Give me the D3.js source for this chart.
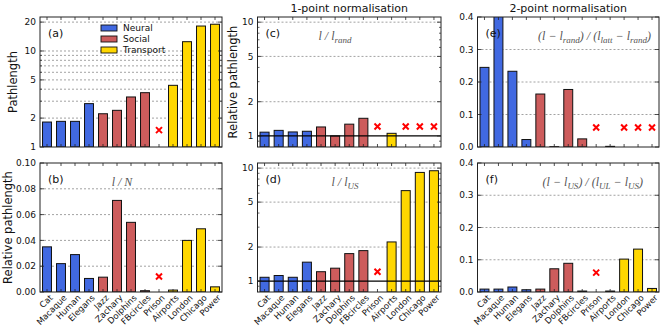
<!DOCTYPE html>
<html lang="en">
<head>
<meta charset="UTF-8">
<title>Pathlength normalisation</title>
<script src="https://d3js.org/d3.v7.min.js"></script>
<style>
  html, body { margin: 0; padding: 0; background: #fff; overflow: hidden; }
  svg { font-family: "DejaVu Sans", sans-serif; }
</style>
</head>
<body>
<div id="chart"></div>
<script>
// networks, in plotting order
const networks = ["Cat", "Macaque", "Human", "Elegans", "Jazz", "Zachary", "Dolphins",
                  "FBcircles", "Prison", "Airports", "London", "Chicago", "Power"];
const kinds = ["Neural", "Neural", "Neural", "Neural", "Social", "Social", "Social",
               "Social", "Social", "Transport", "Transport", "Transport", "Transport"];
const kindNames = ["Neural", "Social", "Transport"];

// values (null = not available, drawn as a red cross)
const pathlength = [1.82, 1.85, 1.85, 2.83, 2.22, 2.41, 3.32, 3.68, null, 4.39, 12.5, 18.2, 19.0];
const relN       = [0.035, 0.022, 0.029, 0.0105, 0.0115, 0.071, 0.054, 0.001, null, 0.0015, 0.040, 0.049, 0.004];
const relRand    = [1.08, 1.12, 1.085, 1.10, 1.20, 1.0, 1.27, 1.43, null, 1.055, null, null, null];
const relUS      = [1.08, 1.12, 1.08, 1.47, 1.21, 1.30, 1.75, 1.86, null, 2.22, 6.32, 9.16, 9.48];
const twoLatt    = [0.245, 0.45, 0.233, 0.023, 0.163, 0.001, 0.177, 0.025, null, 0.002, null, null, null];
const twoUL      = [0.009, 0.009, 0.0155, 0.007, 0.009, 0.072, 0.089, 0.003, null, 0.003, 0.102, 0.133, 0.011];

// height of the red "missing" cross in each panel
const crossA = 1.5, crossB = 0.012, crossC = 1.21, crossD = 1.21, crossE = 0.06, crossF = 0.06;

const colors = { Neural: "#4169e1", Social: "#cd5c5c", Transport: "#ffd700" };

const W = 665, H = 329;
const svg = d3.select("#chart").append("svg").attr("width", W).attr("height", H);

const top1 = 17, bot1 = 147, top2 = 163, bot2 = 292;
const colA = [40, 222], colC = [257.5, 441], colE = [477.5, 659];

const panels = [
  { id: "a", x: colA, y: [top1, bot1], log: true, domain: [1, 22.6], values: pathlength, cross: crossA,
    ticks: [1, 2, 5, 10, 20], grid: [2, 3, 4, 5, 6, 7, 8, 9, 10, 20], minor: [3, 4, 6, 7, 8, 9],
    fmt: d3.format("d"), ylabel: "Pathlength", ylx: 23, legend: true },
  { id: "b", x: colA, y: [top2, bot2], log: false, domain: [0, 0.1], values: relN, cross: crossB,
    ticks: d3.range(0, 0.101, 0.02), grid: [0.02, 0.04, 0.06, 0.08], minor: [],
    fmt: d3.format(".2f"), ylabel: "Relative pathlength", ylx: 28, xlabels: true,
    formula: [["l"], [" / N"]], fx: 122, anchor: "middle" },
  { id: "c", x: colC, y: [top1, bot1], log: true, domain: [0.8, 11.1], values: relRand, cross: crossC,
    ticks: [1, 2, 5, 10], grid: [2, 5, 10], minor: [0.9, 3, 4, 6, 7, 8, 9],
    fmt: d3.format("d"), ylabel: "Relative pathlength", ylx: 21, refLine: 1,
    title: "1-point normalisation",
    formula: [["l / l"], ["rand", true]], fx: 335, anchor: "middle" },
  { id: "d", x: colC, y: [top2, bot2], log: true, domain: [0.8, 11.1], values: relUS, cross: crossD,
    ticks: [1, 2, 5, 10], grid: [2, 5, 10], minor: [0.9, 3, 4, 6, 7, 8, 9],
    fmt: d3.format("d"), refLine: 1, xlabels: true,
    formula: [["l / l"], ["US", true]], fx: 345, anchor: "middle" },
  { id: "e", x: colE, y: [top1, bot1], log: false, domain: [0, 0.4], values: twoLatt, cross: crossE,
    ticks: [0, 0.1, 0.2, 0.3, 0.4], grid: [0.1, 0.2, 0.3], minor: [],
    fmt: d3.format(".1f"), title: "2-point normalisation",
    formula: [["(l \u2212 l"], ["rand", true], [") / (l"], ["latt", true], [" \u2212 l"], ["rand", true], [")"]],
    fx: 651, anchor: "end" },
  { id: "f", x: colE, y: [top2, bot2], log: false, domain: [0, 0.4], values: twoUL, cross: crossF,
    ticks: [0, 0.1, 0.2, 0.3, 0.4], grid: [0.1, 0.2, 0.3], minor: [],
    fmt: d3.format(".1f"), xlabels: true,
    formula: [["(l \u2212 l"], ["US", true], [") / (l"], ["UL", true], [" \u2212 l"], ["US", true], [")"]],
    fx: 643, anchor: "end" }
];

panels.forEach(p => {
  const [x0, x1] = p.x, [y0, y1] = p.y;
  const x = d3.scaleBand().domain(networks).range([x0, x1]).paddingInner(0.36).paddingOuter(0.18);
  const y = (p.log ? d3.scaleLog() : d3.scaleLinear()).domain(p.domain).range([y1, y0]);
  const g = svg.append("g");

  g.append("clipPath").attr("id", "clip-" + p.id)
    .append("rect").attr("x", x0).attr("y", y0).attr("width", x1 - x0).attr("height", y1 - y0);

  // dashed grid
  g.append("g").selectAll("line").data(p.grid).join("line")
    .attr("x1", x0).attr("x2", x1).attr("y1", d => y(d)).attr("y2", d => y(d))
    .attr("stroke", "#8a8a8a").attr("stroke-width", 0.8).attr("stroke-dasharray", "2,2");

  // bars
  const bars = networks.map((n, i) => ({ n, k: kinds[i], v: p.values[i] }));
  g.append("g").attr("clip-path", `url(#clip-${p.id})`)
    .selectAll("rect").data(bars.filter(d => d.v !== null)).join("rect")
    .attr("x", d => x(d.n)).attr("width", x.bandwidth())
    .attr("y", d => y(d.v)).attr("height", d => Math.max(0.5, y1 - y(d.v)))
    .attr("fill", d => colors[d.k]).attr("stroke", "#111").attr("stroke-width", 1);

  // reference line
  if (p.refLine) {
    g.append("line").attr("x1", x0).attr("x2", x1)
      .attr("y1", y(p.refLine)).attr("y2", y(p.refLine))
      .attr("stroke", "#000").attr("stroke-width", 1.3);
  }

  // red crosses for missing values
  const cs = 3;
  g.append("g").selectAll("path").data(bars.filter(d => d.v === null)).join("path")
    .attr("d", d => {
      const cx = x(d.n) + x.bandwidth() / 2, cy = y(p.cross);
      return `M${cx - cs},${cy - cs}L${cx + cs},${cy + cs}M${cx - cs},${cy + cs}L${cx + cs},${cy - cs}`;
    })
    .attr("stroke", "red").attr("stroke-width", 2).attr("fill", "none");

  // category ticks (inward, bottom and top)
  g.append("g").selectAll("line").data(networks).join("line")
    .attr("x1", d => x(d) + x.bandwidth() / 2).attr("x2", d => x(d) + x.bandwidth() / 2)
    .attr("y1", y1).attr("y2", y1 - 3).attr("stroke", "#222").attr("stroke-width", 0.8);
  g.append("g").selectAll("line").data(networks).join("line")
    .attr("x1", d => x(d) + x.bandwidth() / 2).attr("x2", d => x(d) + x.bandwidth() / 2)
    .attr("y1", y0).attr("y2", y0 + 3).attr("stroke", "#222").attr("stroke-width", 0.8);

  // y ticks, inward on both sides
  [[x0, 1], [x1, -1]].forEach(([xx, dir]) => {
    g.append("g").selectAll("line").data(p.ticks).join("line")
      .attr("x1", xx).attr("x2", xx + 4 * dir).attr("y1", d => y(d)).attr("y2", d => y(d))
      .attr("stroke", "#222").attr("stroke-width", 0.8);
    g.append("g").selectAll("line").data(p.minor).join("line")
      .attr("x1", xx).attr("x2", xx + 2 * dir).attr("y1", d => y(d)).attr("y2", d => y(d))
      .attr("stroke", "#222").attr("stroke-width", 0.7);
  });

  // y tick labels
  g.append("g").selectAll("text").data(p.ticks).join("text")
    .attr("x", x0 - 4).attr("y", d => y(d)).attr("dy", "0.35em")
    .attr("text-anchor", "end").attr("font-size", 9).attr("fill", "#111")
    .text(p.fmt);

  // frame
  g.append("rect").attr("x", x0).attr("y", y0).attr("width", x1 - x0).attr("height", y1 - y0)
    .attr("fill", "none").attr("stroke", "#222").attr("stroke-width", 1);

  // x labels
  if (p.xlabels) {
    g.append("g").selectAll("text").data(networks).join("text")
      .attr("transform", d => `translate(${x(d) + x.bandwidth() / 2 + 3},${y1 + 3}) rotate(-45)`)
      .attr("text-anchor", "end").attr("dy", "0.55em")
      .attr("font-size", 8.5).attr("fill", "#111").text(d => d);
  }

  // y label
  if (p.ylabel) {
    g.append("text")
      .attr("transform", `translate(${x0 - p.ylx},${(y0 + y1) / 2}) rotate(-90)`)
      .attr("text-anchor", "middle").attr("font-size", 11.5).attr("fill", "#111")
      .text(p.ylabel);
  }

  // title
  if (p.title) {
    g.append("text").attr("x", (x0 + x1) / 2).attr("y", y0 - 5)
      .attr("text-anchor", "middle").attr("font-size", 11).attr("fill", "#111").text(p.title);
  }

  // panel letter
  g.append("text").attr("x", x0 + 8).attr("y", y0 + 20)
    .attr("font-size", 11).attr("fill", "#111").text(`(${p.id})`);

  // formula
  if (p.formula) {
    const t = g.append("text").attr("x", p.fx).attr("y", y0 + 23)
      .attr("text-anchor", p.anchor)
      .attr("font-family", "'Liberation Serif', serif").attr("font-style", "italic")
      .attr("font-size", 12).attr("fill", "#555");
    let shifted = false;
    p.formula.forEach(([s, sub]) => {
      const ts = t.append("tspan").text(s);
      if (sub && !shifted) { ts.attr("dy", 2.5).attr("font-size", 9); shifted = true; }
      else if (sub) { ts.attr("font-size", 9); }
      else if (shifted) { ts.attr("dy", -2.5); shifted = false; }
    });
  }

  // legend
  if (p.legend) {
    const lg = g.append("g").selectAll("g").data(kindNames).join("g")
      .attr("transform", (d, i) => `translate(101,${25 + i * 11})`);
    lg.append("rect").attr("width", 16).attr("height", 6)
      .attr("fill", d => colors[d]).attr("stroke", "#111").attr("stroke-width", 0.9);
    lg.append("text").attr("x", 22).attr("y", 3).attr("dy", "0.35em")
      .attr("font-size", 9).attr("fill", "#111").text(d => d);
  }
});
</script>
</body>
</html>
